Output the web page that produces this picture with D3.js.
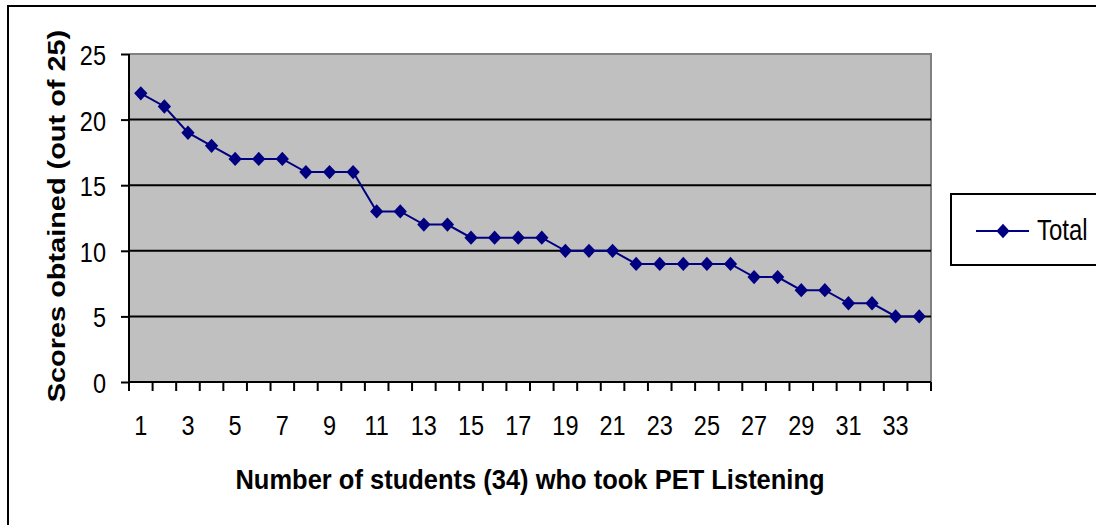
<!DOCTYPE html>
<html><head><meta charset="utf-8">
<script src="https://cdn.jsdelivr.net/npm/d3@7"></script>
<style>body{margin:0;background:#fff}svg{display:block}text{font-family:"Liberation Sans",Arial,sans-serif}</style>
</head><body><svg id="c" width="1096" height="525"></svg>
<script>
const students = d3.range(1, 35);
const scores = [22,21,19,18,17,17,17,16,16,16,13,13,12,12,11,11,11,11,10,10,10,9,9,9,9,9,8,8,7,7,6,6,5,5];
const yTicks = [0,5,10,15,20,25];
const xTickLabels = students.filter(d => d % 2 === 1);
const seriesName = "Total";
const xTitle = "Number of students (34) who took PET Listening";
const yTitle = "Scores obtained (out of 25)";

const svg = d3.select("#c");
const L = 129, R = 931, T = 54, B = 382;
const x = d3.scaleBand().domain(students).range([L, R]);
const y = d3.scaleLinear().domain([0, 25]).range([B, T]);
const STRETCH = 1.2;

function stext(g, tx, ty, str, size, anchor, weight, sy) {
  return g.append("text")
    .attr("transform", `translate(${tx},${ty}) scale(1,${sy || STRETCH})`)
    .attr("text-anchor", anchor).attr("font-size", size)
    .attr("font-weight", weight || "normal").attr("fill", "#000").text(str);
}

// outer frame (left & top)
svg.append("path").attr("d", "M8,525 V6 H1096").attr("fill", "none").attr("stroke", "#000").attr("stroke-width", 2);

// plot background
svg.append("rect").attr("x", L).attr("y", T).attr("width", R - L).attr("height", B - T).attr("fill", "#c0c0c0");
svg.append("path").attr("d", `M${L},${T} H${R} V${B}`).attr("fill", "none").attr("stroke", "#808080").attr("stroke-width", 2);

// gridlines
svg.append("g").selectAll("line").data(yTicks.filter(d => d > 0 && d < 25)).join("line")
  .attr("x1", L).attr("x2", R).attr("y1", d => y(d)).attr("y2", d => y(d))
  .attr("stroke", "#000").attr("stroke-width", 2);

// y axis
const ya = svg.append("g").attr("transform", `translate(${L},0)`)
  .call(d3.axisLeft(y).tickValues(yTicks).tickSize(8).tickFormat(""));
ya.select(".domain").attr("stroke", "#000").attr("stroke-width", 2).attr("d", `M0,${T}V${B}`);
ya.selectAll(".tick line").attr("stroke", "#000").attr("stroke-width", 2);
const ylab = svg.append("g");
yTicks.forEach(t => stext(ylab, L - 23, y(t) + 11, t, 23.5, "end"));

// x axis: ticks at band boundaries
const xa = svg.append("g").attr("transform", `translate(0,${B})`);
xa.append("line").attr("x1", L).attr("x2", R).attr("stroke", "#000").attr("stroke-width", 2);
const bounds = students.map(d => x(d)).concat([R]);
xa.selectAll("line.tk").data(bounds).join("line").attr("class", "tk")
  .attr("x1", d => d).attr("x2", d => d).attr("y1", 0).attr("y2", 9)
  .attr("stroke", "#000").attr("stroke-width", 2);
const xlab = svg.append("g");
xTickLabels.forEach(t => stext(xlab, x(t) + x.bandwidth() / 2, 435, t, 23.5, "middle"));

// line
const cx = d => x(d) + x.bandwidth() / 2;
svg.append("path").datum(scores)
  .attr("d", d3.line().x((d, i) => cx(students[i])).y(d => y(d)))
  .attr("fill", "none").attr("stroke", "#000080").attr("stroke-width", 2);
const diamond = d3.symbol().type(d3.symbolDiamond2).size(112);
svg.append("g").selectAll("path").data(scores).join("path")
  .attr("transform", (d, i) => `translate(${cx(students[i])},${y(d)}) scale(1,1.08)`)
  .attr("d", diamond).attr("fill", "#000080");

// titles
stext(svg, (L + R) / 2, 489, xTitle, 25.5, "middle", "bold", 1.1);
svg.append("text").attr("transform", `translate(65,216) rotate(-90) scale(1.18,1)`)
  .attr("text-anchor", "middle").attr("font-size", 24.5).attr("font-weight", "bold")
  .attr("fill", "#000").text(yTitle);

// legend
const lg = svg.append("g");
lg.append("rect").attr("x", 951).attr("y", 194).attr("width", 160).attr("height", 71)
  .attr("fill", "#fff").attr("stroke", "#000").attr("stroke-width", 2);
lg.append("line").attr("x1", 976).attr("x2", 1029).attr("y1", 231).attr("y2", 231)
  .attr("stroke", "#000080").attr("stroke-width", 2);
lg.append("path").attr("transform", "translate(1003,231) scale(1,1.08)").attr("d", diamond).attr("fill", "#000080");
stext(lg, 1037, 240, seriesName, 24, "start", "normal", 1.25);
</script></body></html>
